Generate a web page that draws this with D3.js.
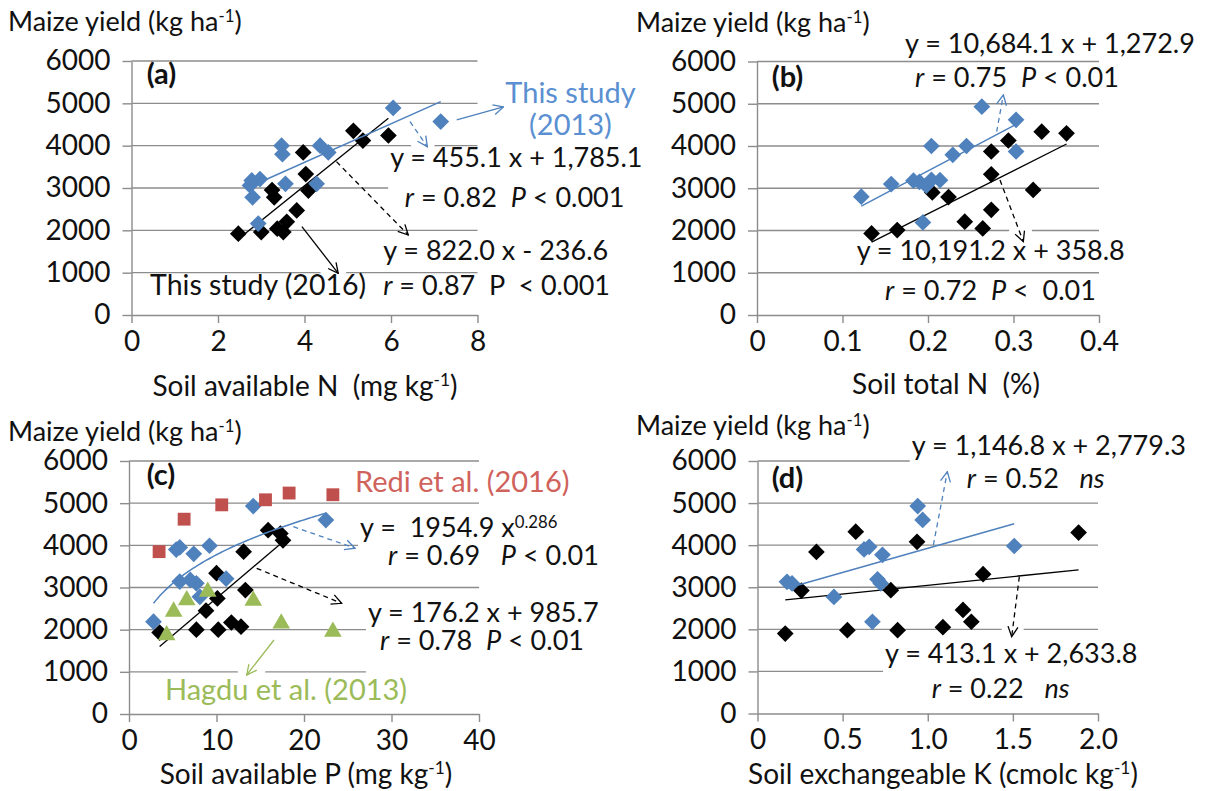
<!DOCTYPE html>
<html>
<head>
<meta charset="utf-8">
<script src="https://cdn.jsdelivr.net/npm/d3@7"></script>
<style>
  body { margin: 0; background: #fff; }
  text { font-family: Lato, 'Open Sans', sans-serif; white-space: pre; }
</style>
</head>
<body>
<svg id="chart" width="1215" height="791"></svg>
<script>
// ---- data ----
const yTicks = [0, 1000, 2000, 3000, 4000, 5000, 6000];

// (a) soil available N
const nTicks = [0, 2, 4, 6, 8];
const nStudy2016 = [[2.47,1920],[3.0,1960],[3.25,2950],[3.3,2780],[3.37,2040],[3.51,1960],[3.59,2200],[3.82,2470],[3.97,3840],[4.03,3330],[4.09,2940],[5.13,4350],[5.35,4120],[5.94,4240]];
const nStudy2013 = [[2.74,3060],[2.78,3180],[2.97,3210],[2.80,2780],[2.93,2160],[3.47,4000],[3.49,3800],[3.56,3100],[4.28,3100],[4.36,4000],[4.55,3840],[6.05,4890],[7.15,4570]];
const nFit2016 = [822.0, -236.6];
const nFit2013 = [455.1, 1785.1];

// (b) soil total N
const tnTicks = [0, 0.1, 0.2, 0.3, 0.4];
const tnStudy2016 = [[0.134,1930],[0.164,2010],[0.205,2900],[0.224,2790],[0.243,2210],[0.264,2050],[0.274,2490],[0.274,3330],[0.274,3870],[0.294,4130],[0.323,2960],[0.333,4340],[0.362,4300]];
const tnStudy2013 = [[0.122,2800],[0.157,3100],[0.183,3180],[0.19,3150],[0.198,3060],[0.204,3200],[0.214,3190],[0.194,2190],[0.204,4000],[0.229,3790],[0.245,4000],[0.263,4930],[0.303,4620],[0.303,3870]];
const tnFit2016 = [10191.2, 358.8];
const tnFit2013 = [10684.1, 1272.9];

// (c) soil available P
const pTicks = [0, 10, 20, 30, 40];
const pStudy2016 = [[3.5,1930],[7.7,2000],[10.2,2000],[11.7,2170],[12.8,2070],[8.8,2450],[10.1,2740],[10.0,3340],[13.3,2940],[13.1,3850],[15.9,4360],[17.3,4280],[17.6,4120]];
const pStudy2013 = [[2.8,2190],[5.4,3900],[5.8,3950],[7.4,3800],[9.2,3990],[14.2,4930],[22.5,4600],[5.8,3140],[7.0,3180],[7.7,3100],[8.1,2780],[11.1,3210]];
const pRedi2016 = [[3.44,3850],[6.3,4620],[10.6,4960],[15.6,5080],[18.3,5240],[23.3,5200]];
const pHagdu2013 = [[4.3,1870],[5.1,2430],[6.6,2700],[9.0,2900],[14.2,2690],[17.4,2150],[23.3,1950]];
const pFit2016 = [176.2, 985.7];
const pPow2013 = [1954.9, 0.286];

// (d) soil exchangeable K
const kTicks = [0, 0.5, 1.0, 1.5, 2.0];
const kStudy2016 = [[0.163,1900],[0.258,2920],[0.346,3840],[0.528,1980],[0.577,4320],[0.783,2930],[0.823,1980],[0.937,4080],[1.089,2050],[1.207,2460],[1.256,2180],[1.325,3310],[1.886,4300]];
const kStudy2013 = [[0.173,3130],[0.203,3090],[0.449,2770],[0.626,3900],[0.656,3960],[0.734,3770],[0.705,3190],[0.724,3090],[0.675,2180],[0.941,4930],[0.970,4600],[1.508,3980]];
const kFit2016 = [413.1, 2633.8];
const kFit2013 = [1146.8, 2779.3];

// ---- styling ----
const C = {
  black: '#000', blue: '#4f81bd', blueText: '#5a8fd2',
  red: '#c0504d', redText: '#d0625c', green: '#9bbb59',
  grid: '#8c8c8c', text: '#111'
};
const FS = { tick: 28, title: 27, note: 27, name: 29, label: 28, tag: 29 };

const svg = d3.select('#chart');

// arrow heads, one per colour
const defs = svg.append('defs');
[['k', C.black], ['b', C.blue], ['g', C.green]].forEach(([id, col]) => {
  defs.append('marker')
    .attr('id', 'arr-' + id)
    .attr('viewBox', '0 0 12 12').attr('refX', 11).attr('refY', 6)
    .attr('markerWidth', 12).attr('markerHeight', 12)
    .attr('markerUnits', 'userSpaceOnUse').attr('orient', 'auto')
    .append('path').attr('d', 'M1,1 L11,6 L1,11')
    .attr('fill', 'none').attr('stroke', col).attr('stroke-width', 1.3)
    .attr('stroke-dasharray', 'none');
});

const diamond = d3.symbol().type(d3.symbolSquare).size(140);
const square = d3.symbol().type(d3.symbolSquare).size(165);
const triangle = d3.symbol().type(d3.symbolTriangle).size(135);

function addText(g, x, y, parts, opt = {}) {
  const t = g.append('text')
    .attr('x', x).attr('y', y)
    .attr('xml:space', 'preserve')
    .attr('font-size', opt.size || FS.note)
    .attr('fill', opt.color || C.text)
    .attr('text-anchor', opt.anchor || 'start')
    .attr('font-weight', opt.bold ? 'bold' : null);
  let raised = false;
  parts.forEach(([s, st]) => {
    const sp = t.append('tspan').text(s);
    if (st === 'i') sp.attr('font-style', 'italic');
    if (st === 'sup') { sp.attr('font-size', '0.62em').attr('dy', '-0.55em'); raised = true; }
    else if (raised) { sp.attr('dy', '0.34em'); raised = false; }
  });
  return t;
}

function drawPanel(p) {
  const x = d3.scaleLinear().domain(p.xDomain).range([p.left, p.right]);
  const y = d3.scaleLinear().domain([0, 6000]).range([p.bottom, p.top]);
  const g = svg.append('g');

  // gridlines
  g.append('g').selectAll('line').data(yTicks.filter(d => d > 0)).join('line')
    .attr('x1', p.left).attr('x2', p.right)
    .attr('y1', d => y(d)).attr('y2', d => y(d))
    .attr('stroke', C.grid).attr('stroke-width', 1.4);

  // white boxes behind some labels and arrow tips (they hide the gridlines)
  const boxLayer = g.append('g');

  // axes
  const ax = g.append('g').attr('transform', `translate(0,${p.bottom})`)
    .call(d3.axisBottom(x).tickValues(p.xTicks).tickFormat(p.xFormat)
      .tickSizeInner(8).tickSizeOuter(0).tickPadding(8));
  const ay = g.append('g').attr('transform', `translate(${p.left},0)`)
    .call(d3.axisLeft(y).tickValues(yTicks).tickFormat(d3.format('d'))
      .tickSizeInner(9).tickSizeOuter(0).tickPadding(12));
  [ax, ay].forEach(a => {
    a.attr('font-family', null).attr('font-size', null);
    a.selectAll('path, line').attr('stroke', C.grid).attr('stroke-width', 1.4);
    a.selectAll('text').attr('font-size', FS.tick).attr('fill', C.text);
  });

  // series
  const fitLine = (pts, [m, c], col, w) => {
    const ext = d3.extent(pts, d => d[0]);
    g.append('line')
      .attr('x1', x(ext[0])).attr('y1', y(m * ext[0] + c))
      .attr('x2', x(ext[1])).attr('y2', y(m * ext[1] + c))
      .attr('stroke', col).attr('stroke-width', w);
  };
  const marks = (pts, sym, col, rot) => {
    g.append('g').selectAll('path').data(pts).join('path')
      .attr('d', sym)
      .attr('transform', d => `translate(${x(d[0])},${y(d[1])})` + (rot ? ' rotate(45)' : ''))
      .attr('fill', col);
  };
  marks(p.black, diamond, C.black, true);
  fitLine(p.black, p.blackFit, C.black, 1.3);
  marks(p.blue, diamond, C.blue, true);
  if (p.bluePow) {
    const ext = d3.extent(p.blue, d => d[0]);
    const xs = d3.range(ext[0], ext[1], 0.25).concat([ext[1]]);
    g.append('path')
      .attr('d', d3.line().x(d => x(d)).y(d => y(p.bluePow[0] * Math.pow(d, p.bluePow[1])))(xs))
      .attr('fill', 'none').attr('stroke', C.blue).attr('stroke-width', 1.5);
  } else {
    fitLine(p.blue, p.blueFit, C.blue, 1.5);
  }
  (p.extra || []).forEach(e => marks(e.pts, e.sym, e.color, false));

  // arrows
  (p.arrows || []).forEach(a => {
    const x1 = x(a.from[0]), y1 = y(a.from[1]), x2 = x(a.to[0]), y2 = y(a.to[1]);
    if (a.halo) {
      const len = Math.hypot(x2 - x1, y2 - y1);
      boxLayer.append('circle')
        .attr('cx', x2 - 8 * (x2 - x1) / len).attr('cy', y2 - 8 * (y2 - y1) / len)
        .attr('r', a.halo).attr('fill', '#fff');
    }
    g.append('line')
      .attr('x1', x1).attr('y1', y1).attr('x2', x2).attr('y2', y2)
      .attr('stroke', C[a.col === 'k' ? 'black' : a.col === 'b' ? 'blue' : 'green'])
      .attr('stroke-width', 1.3)
      .attr('stroke-dasharray', a.dash ? '5,4' : null)
      .attr('marker-end', `url(#arr-${a.col})`);
  });

  // annotation groups
  (p.notes || []).forEach(n => {
    const ng = g.append('g');
    const texts = n.lines.map(l => addText(ng, x(l.at[0]), y(l.at[1]), l.parts,
      { color: n.color, anchor: n.anchor, size: n.size, bold: n.bold }));
    if (n.box) {
      const fs = n.size || FS.note;
      const boxes = texts.map(t => t.node().getBBox());
      const x0 = d3.min(boxes, b => b.x) - 2, x1 = d3.max(boxes, b => b.x + b.width) + 2;
      const y0 = +texts[0].attr('y') - 0.72 * fs;
      const y1 = +texts[texts.length - 1].attr('y') + 0.24 * fs + (n.boxExtra || 0);
      boxLayer.append('rect').attr('x', x0).attr('y', y0)
        .attr('width', x1 - x0).attr('height', y1 - y0).attr('fill', '#fff');
    }
  });

  // axis titles
  addText(g, p.titleX, p.titleY,
    [['Maize yield (kg ha'], ['-1', 'sup'], [')']], { size: FS.title });
  addText(g, p.labelX, p.labelY, p.xLabel, { size: FS.label, anchor: 'middle' });
}

const fmt1 = d => d === 0 ? '0' : d3.format('.1f')(d);

drawPanel({
  left: 131.5, right: 477.5, top: 61, bottom: 315,
  xDomain: [0, 8], xTicks: nTicks, xFormat: d3.format('d'),
  black: nStudy2016, blackFit: nFit2016, blue: nStudy2013, blueFit: nFit2013,
  titleX: 8, titleY: 31, labelX: 305, labelY: 396,
  xLabel: [['Soil available N  (mg kg'], ['-1', 'sup'], [')']],
  arrows: [
    { from: [7.52, 4607], to: [8.6, 4914], col: 'b' },
    { from: [6.44, 4567], to: [6.84, 3976], col: 'b', dash: true, halo: 13 },
    { from: [4.74, 3622], to: [6.4, 1890], col: 'k', dash: true },
    { from: [3.94, 2086], to: [4.78, 985], col: 'k', halo: 14 }
  ],
  notes: [
    { lines: [{ at: [0.35, 5457], parts: [['(a)']] }], bold: true, size: FS.tag },
    { color: C.blueText, anchor: 'middle', size: FS.name, lines: [
      { at: [10.15, 5008], parts: [['This study']] },
      { at: [10.15, 4252], parts: [['(2013)']] }] },
    { box: true, lines: [
      { at: [5.98, 3503], parts: [['y = 455.1 x + 1,785.1']] },
      { at: [6.32, 2558], parts: [['r', 'i'], [' = 0.82  '], ['P', 'i'], [' < 0.001']] }] },
    { lines: [
      { at: [5.82, 1299], parts: [['y = 822.0 x - 236.6']] },
      { at: [5.82, 472], parts: [['r', 'i'], [' = 0.87  P  < 0.001']] }] },
    { size: 28.5, lines: [{ at: [0.43, 472], parts: [['This study (2016)']] }] }
  ]
});

drawPanel({
  left: 757, right: 1099, top: 61.5, bottom: 315,
  xDomain: [0, 0.4], xTicks: tnTicks, xFormat: fmt1,
  black: tnStudy2016, blackFit: tnFit2016, blue: tnStudy2013, blueFit: tnFit2013,
  titleX: 636, titleY: 32, labelX: 946, labelY: 394,
  xLabel: [['Soil total N  (%)']],
  arrows: [
    { from: [0.2803, 4338], to: [0.2881, 5207], col: 'b', dash: true },
    { from: [0.2842, 3195], to: [0.3115, 1735], col: 'k', dash: true, halo: 12 }
  ],
  notes: [
    { lines: [{ at: [0.0172, 5404], parts: [['(b)']] }], bold: true, size: FS.tag },
    { lines: [
      { at: [0.1731, 6194], parts: [['y = 10,684.1 x + 1,272.9']] },
      { at: [0.1848, 5404], parts: [['r', 'i'], [' = 0.75  '], ['P', 'i'], [' < 0.01']] }] },
    { lines: [
      { at: [0.1166, 1302], parts: [['y = 10,191.2 x + 358.8']] },
      { at: [0.1497, 355], parts: [['r', 'i'], [' = 0.72  '], ['P', 'i'], [' <  0.01']] }] }
  ]
});

drawPanel({
  left: 129, right: 479, top: 461, bottom: 714,
  xDomain: [0, 40], xTicks: pTicks, xFormat: d3.format('d'),
  black: pStudy2016, blackFit: pFit2016, blue: pStudy2013, bluePow: pPow2013,
  extra: [
    { pts: pHagdu2013, sym: triangle, color: C.green },
    { pts: pRedi2016, sym: square, color: C.red }
  ],
  titleX: 8, titleY: 441, labelX: 306, labelY: 784,
  xLabel: [['Soil available P (mg kg'], ['-1', 'sup'], [')']],
  arrows: [
    { from: [18.78, 4443], to: [25.83, 3932], col: 'b', dash: true },
    { from: [14.59, 3455], to: [24.3, 2625], col: 'k', dash: true },
    { from: [16.57, 1755], to: [13.45, 925], col: 'g', halo: 14 }
  ],
  notes: [
    { lines: [{ at: [2.02, 5430], parts: [['(c)']] }], bold: true, size: FS.tag },
    { color: C.redText, size: FS.name, lines: [{ at: [25.83, 5272], parts: [['Redi et al. (2016)']] }] },
    { box: true, lines: [
      { at: [26.4, 4204], parts: [['y =  1954.9 x'], ['0.286', 'sup']] },
      { at: [29.6, 3533], parts: [['r', 'i'], [' = 0.69   '], ['P', 'i'], [' < 0.01']] }] },
    { box: true, boxExtra: 20, lines: [
      { at: [27.31, 2189], parts: [['y = 176.2 x + 985.7']] },
      { at: [28.69, 1518], parts: [['r', 'i'], [' = 0.78  '], ['P', 'i'], [' < 0.01']] }] },
    { color: C.green, size: FS.name, lines: [{ at: [4.11, 332], parts: [['Hagdu et al. (2013)']] }] }
  ]
});

drawPanel({
  left: 757.5, right: 1098, top: 461, bottom: 713.5,
  xDomain: [0, 2], xTicks: kTicks, xFormat: fmt1,
  black: kStudy2016, blackFit: kFit2016, blue: kStudy2013, blueFit: kFit2013,
  titleX: 636, titleY: 435, labelX: 943, labelY: 784,
  xLabel: [['Soil exchangeable K (cmolc kg'], ['-1', 'sup'], [')']],
  arrows: [
    { from: [1.033, 4004], to: [1.115, 5746], col: 'b', dash: true },
    { from: [1.538, 3251], to: [1.493, 1825], col: 'k', dash: true, halo: 11 }
  ],
  notes: [
    { lines: [{ at: [0.0834, 5352], parts: [['(d)']] }], bold: true, size: FS.tag },
    { box: true, lines: [
      { at: [0.906, 6143], parts: [['y = 1,146.8 x + 2,779.3']] },
      { at: [1.229, 5352], parts: [['r', 'i'], [' = 0.52   '], ['ns', 'i']] }] },
    { box: true, lines: [
      { at: [0.749, 1193], parts: [['y = 413.1 x + 2,633.8']] },
      { at: [1.023, 361], parts: [['r', 'i'], [' = 0.22   '], ['ns', 'i']] }] }
  ]
});
</script>
</body>
</html>
